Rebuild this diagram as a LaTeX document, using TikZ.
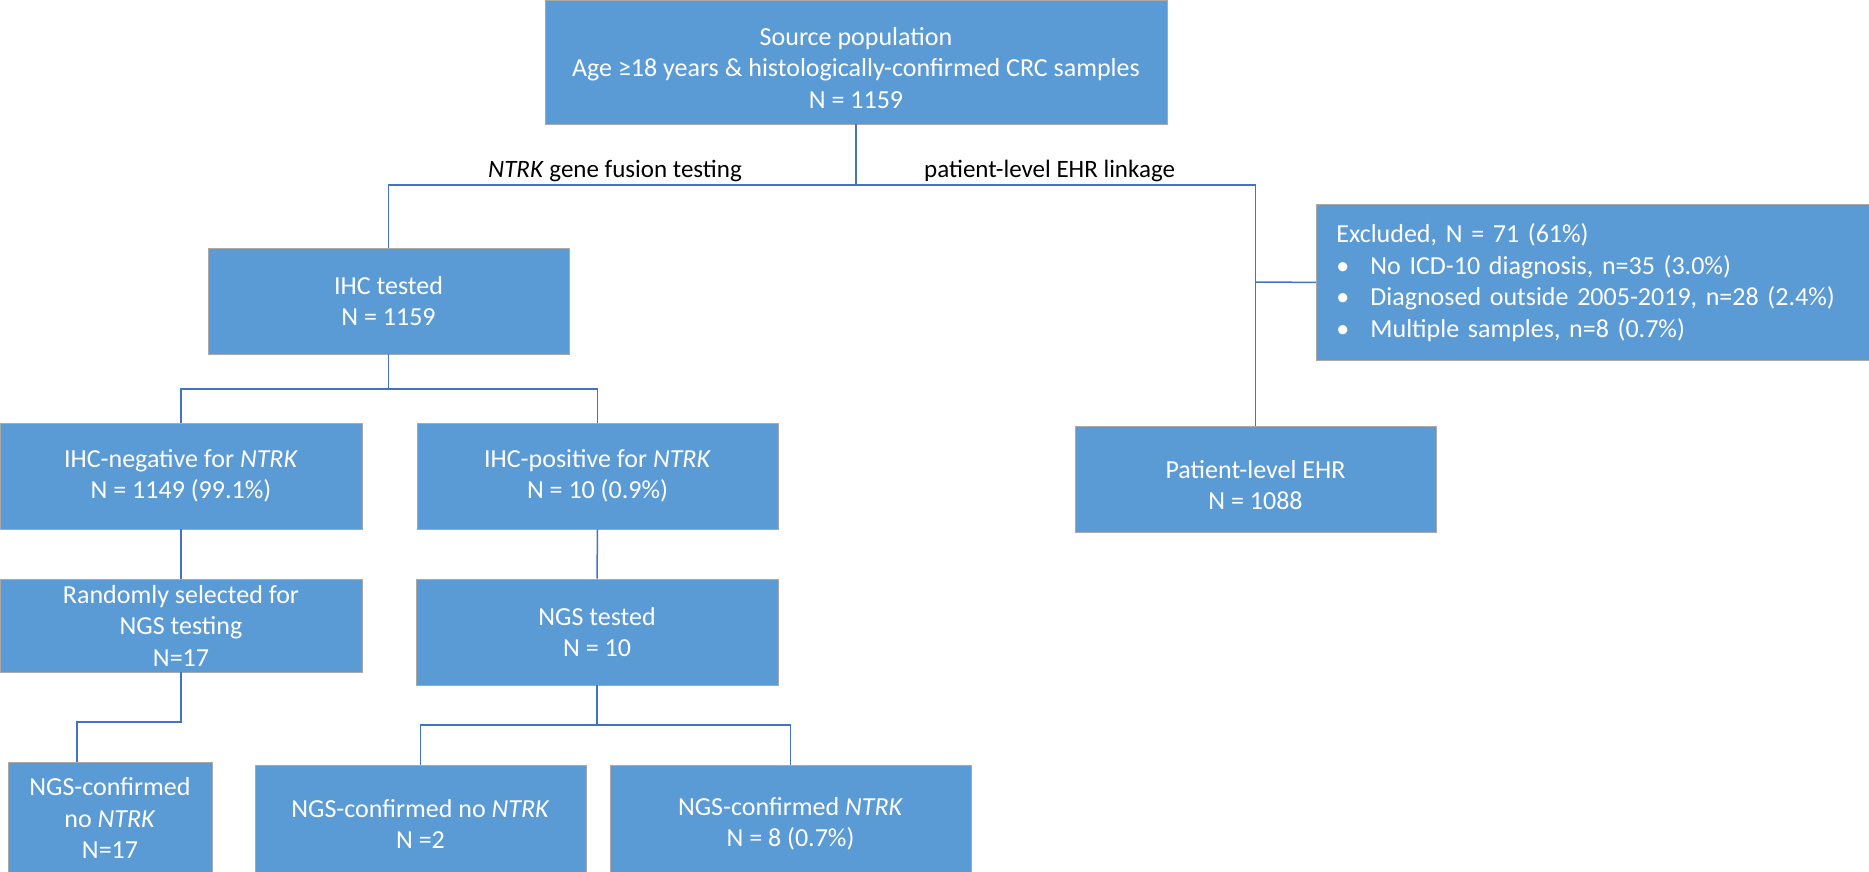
\documentclass[tikz,border=0pt]{standalone}
\usepackage{fontspec}
\setmainfont{Carlito}
\definecolor{boxblue}{HTML}{5B9BD5}
\definecolor{linkblue}{HTML}{4472C4}
\definecolor{edgegray}{HTML}{A9A9A9}
\begin{document}
\begin{tikzpicture}[x=1pt,y=-1pt,
  box/.style={rectangle, fill=boxblue, draw=edgegray, line width=0.8pt, text=white, align=center, inner sep=0pt, font=\fontsize{26}{31.5}\selectfont},
  boxtxt/.style={text=white, align=center, inner sep=0pt, font=\fontsize{26}{31.5}\selectfont},
  link/.style={draw=linkblue, line width=1.5pt},
  lbl/.style={font=\fontsize{25}{30}\selectfont, inner sep=0pt}]
\useasboundingbox (0,0) rectangle (1869,871);

% boxes
\node[box, minimum width=622, minimum height=124] (src) at (856,62) {};
\node[boxtxt] (srct) at (856,68) {Source population\\Age ≥18 years \& histologically-confirmed CRC samples\\N = 1159};
\node[box, minimum width=361, minimum height=106] (ihc) at (388.5,301) {IHC tested\\N = 1159};
\node[box, minimum width=362, minimum height=106] (neg) at (181,476) {IHC-negative for \textit{NTRK}\\N = 1149 (99.1\%)};
\node[box, minimum width=361, minimum height=106] (pos) at (597.5,476) {IHC-positive for \textit{NTRK}\\N = 10 (0.9\%)};
\node[box, minimum width=362, minimum height=93] (rand) at (181,625.5) {Randomly selected for\\NGS testing\\N=17};
\node[box, minimum width=362, minimum height=106] (ngs) at (597,632) {NGS tested\\N = 10};
\node[box, minimum width=204, minimum height=112] (nc1) at (110,818) {NGS-confirmed\\no \textit{NTRK}\\N=17};
\node[box, minimum width=331, minimum height=118] (nc2) at (420.5,824) {NGS-confirmed no \textit{NTRK}\\N =2};
\node[box, minimum width=361, minimum height=118] (nc3) at (790.5,824) {NGS-confirmed \textit{NTRK}\\N = 8 (0.7\%)};
\node[box, minimum width=361, minimum height=106] (pat) at (1255.5,479) {};
\node[boxtxt] (patt) at (1255.5,485) {Patient-level EHR\\N = 1088};
\node[box, anchor=north west, minimum width=560, minimum height=156, align=left, text width=520, inner xsep=20pt] (exc) at (1316,204)
  {Excluded, N = 71 (61\%)\\
   \makebox[34pt][l]{•}No ICD-10 diagnosis, n=35 (3.0\%)\\
   \makebox[34pt][l]{•}Diagnosed outside 2005-2019, n=28 (2.4\%)\\
   \makebox[34pt][l]{•}Multiple samples, n=8 (0.7\%)};

% labels
\node[lbl, anchor=base east] (l1) at (742,177) {\textit{NTRK} gene fusion testing};
\node[lbl, anchor=base west] (l2) at (924,177) {patient-level EHR linkage};

% connectors
\coordinate (j1) at (856,185);
\draw[link] (src.south) -- (j1) -| (ihc.north);
\draw[link] (j1) -| (pat.north);
\coordinate (j2) at (1255.5,282);
\draw[link] (j2) -- (exc.west);
\coordinate (j3) at (388.5,389);
\draw[link] (ihc.south) -- (j3) -| (neg.north);
\draw[link] (j3) -| (pos.north);
\draw[link] (neg.south) -- (rand.north);
\draw[link] (pos.south) -- (ngs.north);
\coordinate (nc1in) at (77,762);
\draw[link] (rand.south) -- ++(0,49.5) -| (nc1in);
\coordinate (j4) at (597,725);
\draw[link] (ngs.south) -- (j4) -| (nc2.north);
\draw[link] (j4) -| (nc3.north);
\end{tikzpicture}
\end{document}
